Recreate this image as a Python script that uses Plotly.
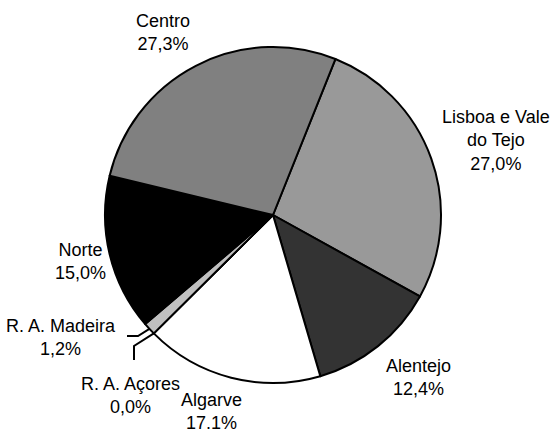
import math
import plotly.graph_objects as go

# Data
regions = ["Lisboa e Vale do Tejo", "Alentejo", "Algarve", "R. A. Açores",
           "R. A. Madeira", "Norte", "Centro"]
shares = [27.0, 12.4, 17.1, 0.0, 1.2, 15.0, 27.3]
label_texts = ["Lisboa e Vale<br>do Tejo<br>27,0%", "Alentejo<br>12,4%",
               "Algarve<br>17.1%", "R. A. Açores<br>0,0%",
               "R. A. Madeira<br>1,2%", "Norte<br>15,0%", "Centro<br>27,3%"]
colors = ["#999999", "#333333", "#ffffff", "#dddddd", "#c0c0c0", "#000000", "#808080"]

W, H = 555, 432
cx, cy, R = 273, 215, 168
start_angle = 21.8

# label centres in pixels (layout)
label_pos = [(496, 141), (418, 377), (211, 411), (130, 395),
             (61, 337), (80, 261), (163, 33)]

fig = go.Figure(go.Pie(
    labels=regions, values=shares, sort=False, direction="clockwise",
    rotation=start_angle, textinfo="none", hoverinfo="label+percent",
    marker=dict(colors=colors, line=dict(color="#000000", width=2)),
    domain=dict(x=[(cx - R) / W, (cx + R) / W], y=[1 - (cy + R) / H, 1 - (cy - R) / H]),
    showlegend=False,
))

for txt, (px, py) in zip(label_texts, label_pos):
    fig.add_annotation(x=px / W, y=1 - py / H, xref="paper", yref="paper",
                       text=txt, showarrow=False, xanchor="center", yanchor="middle",
                       font=dict(family="Liberation Sans, Arial", size=18, color="#000000"))

# leader lines for the small slices, computed from slice angles
total = sum(shares)
def edge_point(angle_deg):
    a = math.radians(angle_deg)
    return cx + R * math.sin(a), cy - R * math.cos(a)

cum = start_angle + sum(shares[:3]) / total * 360
az_x, az_y = edge_point(cum)  # Açores
md_x, md_y = edge_point(cum + shares[4] / total * 360 / 2)  # Madeira mid

def path(pts):
    return "M " + " L ".join(f"{x / W} {1 - y / H}" for x, y in pts)

fig.add_shape(type="path", xref="paper", yref="paper",
              path=path([(127, 336), (138, 336), (md_x, md_y)]),
              line=dict(color="#000000", width=2))
fig.add_shape(type="path", xref="paper", yref="paper",
              path=path([(134, 360), (134, 346), (az_x, az_y)]),
              line=dict(color="#000000", width=2))

fig.update_layout(width=W, height=H, margin=dict(l=0, r=0, t=0, b=0),
                  paper_bgcolor="#ffffff", plot_bgcolor="#ffffff")
fig.write_html("out.html", config={"displayModeBar": False},
               post_script="document.body.style.margin='0';document.body.style.overflow='hidden';")
